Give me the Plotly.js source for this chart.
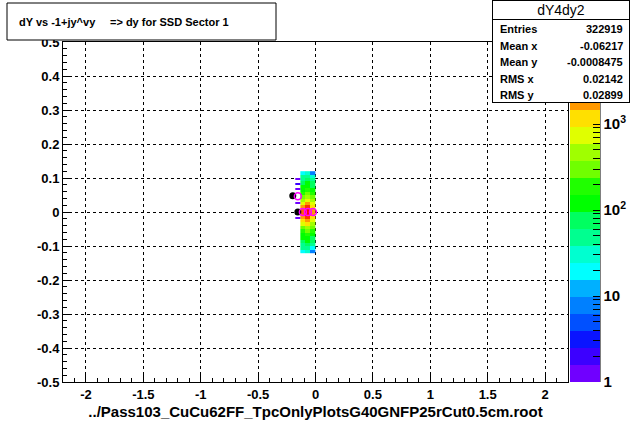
<!DOCTYPE html>
<html>
<head>
<meta charset="utf-8">
<script src="https://cdn.plot.ly/plotly-3.0.1.min.js"></script>
<style>
html,body{margin:0;padding:0;background:#fff;}
#chart{width:632px;height:424px;}
</style>
</head>
<body>
<div id="chart"></div>
<script>
// ---------- data ----------
const colCenters = [-0.110, -0.066, -0.022];
const rowCenters = [0.115, 0.105, 0.095, 0.085, 0.075, 0.065, 0.055, 0.045, 0.035, 0.025, 0.015, 0.005,
                    -0.005, -0.015, -0.025, -0.035, -0.045, -0.055, -0.065, -0.075, -0.085, -0.095, -0.105, -0.115];
const countsA = [22, 40, 60, 75, 100, 130, 200, 330, 550, 900, 1600, 2300,
                 2400, 1700, 1000, 600, 350, 210, 140, 100, 80, 60, 40, 20];
const countsB = [30, 60, 80, 100, 130, 180, 300, 500, 900, 1600, 4000, 7500,
                 8000, 4500, 1700, 1000, 550, 320, 190, 140, 105, 85, 60, 30];
const countsC = [8, 25, 45, 65, 85, 110, 160, 250, 420, 700, 1200, 1800,
                 1900, 1300, 750, 450, 270, 170, 115, 85, 65, 45, 22, 8];

const sparseX = -0.154;
const sparseY = [0.0975, 0.0825, 0.0675, 0.0275, -0.0175];
const sparseCount = [1, 2, 1, 1, 1];

const blackX = [-0.198, -0.154];
const blackY = [0.048, 0.0];
const magentaX = [-0.154, -0.110, -0.066, -0.022];
const magentaY = [0.046, 0.0, 0.0, 0.0];

const xTickVals = [-2, -1.5, -1, -0.5, 0, 0.5, 1, 1.5, 2];
const xTickText = ['-2', '-1.5', '-1', '-0.5', '0', '0.5', '1', '1.5', '2'];
const yTickVals = [-0.5, -0.4, -0.3, -0.2, -0.1, 0, 0.1, 0.2, 0.3, 0.4, 0.5];
const yTickText = ['-0.5', '-0.4', '-0.3', '-0.2', '-0.1', '0', '0.1', '0.2', '0.3', '0.4', '0.5'];

const zMaxCount = 9000;
const paletteColors = ['#7000ff', '#3c00ff', '#0a14ff', '#0050ff', '#0080ff', '#00b0ff', '#00ffff',
  '#00ffd0', '#00ff90', '#00ff60', '#00ff00', '#20ff00', '#70ff00', '#a0ff00', '#e0ff00', '#ffe000',
  '#ff9900', '#ff6000', '#ff3000', '#ff0000'];

const statLabels = ['Entries', 'Mean x', 'Mean y', 'RMS x', 'RMS y'];
const statValues = ['322919', '-0.06217', '-0.0008475', '0.02142', '0.02899'];
const histName = 'dY4dy2';
const titleLeft = 'dY vs -1+jy^vy';
const titleRight = '=> dy for SSD Sector 1';
const xTitle = '../Pass103_CuCu62FF_TpcOnlyPlotsG40GNFP25rCut0.5cm.root';

// ---------- build ----------
const FONT = 'Liberation Sans, Arial, sans-serif';
const L = 63, R = 568, T = 42, B = 382;
const px2x = p => (p - L) / (R - L);
const py2y = p => (B - p) / (B - T);

const zMain = rowCenters.map((y, i) => [countsA[i], countsB[i], countsC[i]].map(c => Math.log10(c)));

const sparseRowsY = [];
for (let k = 0; k < 48; k++) sparseRowsY.push(-0.1175 + 0.005 * k);
const zSparse = sparseRowsY.map(y => {
  const j = sparseY.findIndex(v => Math.abs(v - y) < 1e-6);
  return [j >= 0 ? Math.log10(sparseCount[j]) : null];
});

const colorscale = [];
paletteColors.forEach((c, i) => {
  colorscale.push([i / paletteColors.length, c]);
  colorscale.push([(i + 1) / paletteColors.length, c]);
});

const cbVals = [], cbText = [];
for (let d = 0; d <= 3; d++) {
  for (let m = 1; m <= 9; m++) {
    const v = d + Math.log10(m);
    if (v > Math.log10(zMaxCount)) break;
    cbVals.push(v);
    cbText.push(m === 1 ? (d === 0 ? '1' : d === 1 ? '10' : '10<sup>' + d + '</sup>') : '');
  }
}

const traces = [
  {type: 'heatmap', x: colCenters, y: rowCenters, z: zMain, coloraxis: 'coloraxis', zsmooth: false, hoverinfo: 'skip'},
  {type: 'heatmap', x0: sparseX, dx: 0.044, y: sparseRowsY, z: zSparse, coloraxis: 'coloraxis', zsmooth: false, hoverinfo: 'skip'},
  {type: 'scatter', mode: 'markers', x: blackX, y: blackY, marker: {color: 'black', size: 7, symbol: 'circle'}, hoverinfo: 'skip'},
  {type: 'scatter', mode: 'markers', x: magentaX, y: magentaY,
   marker: {color: '#ff00ff', size: 7, symbol: 'circle-open', line: {color: '#ff00ff', width: 1.5}}, hoverinfo: 'skip'}
];

const tickFont = {family: FONT, size: 13, color: 'black', weight: 'bold'};

const annotations = [
  {xref: 'paper', yref: 'paper', x: px2x(17), y: py2y(22), xanchor: 'left', yanchor: 'middle', showarrow: false,
   text: titleLeft, font: {family: FONT, size: 11, color: 'black', weight: 'bold'}},
  {xref: 'paper', yref: 'paper', x: px2x(108), y: py2y(22), xanchor: 'left', yanchor: 'middle', showarrow: false,
   text: titleRight, font: {family: FONT, size: 11, color: 'black', weight: 'bold'}},
  // stats box header & body
  {xref: 'paper', yref: 'paper', x: px2x(492), y: py2y(0), xanchor: 'left', yanchor: 'top', showarrow: false,
   text: histName, width: 136, height: 18, bgcolor: 'white', bordercolor: 'black', borderwidth: 1, borderpad: 0,
   font: {family: FONT, size: 14, color: 'black'}},
  {xref: 'paper', yref: 'paper', x: px2x(492), y: py2y(19), xanchor: 'left', yanchor: 'top', showarrow: false,
   text: ' ', width: 136, height: 82, bgcolor: 'white', bordercolor: 'black', borderwidth: 1, borderpad: 0,
   font: {family: FONT, size: 11, color: 'black'}}
];
statLabels.forEach((s, i) => {
  const yy = 29 + i * 16.6;
  annotations.push({xref: 'paper', yref: 'paper', x: px2x(498), y: py2y(yy), xanchor: 'left', yanchor: 'middle',
    showarrow: false, text: s, font: {family: FONT, size: 11, color: 'black', weight: 'bold'}});
  annotations.push({xref: 'paper', yref: 'paper', x: px2x(625), y: py2y(yy), xanchor: 'right', yanchor: 'middle',
    showarrow: false, text: statValues[i], font: {family: FONT, size: 11, color: 'black', weight: 'bold'}});
});

const layout = {
  width: 632, height: 424,
  margin: {l: L, r: 632 - R, t: T, b: 424 - B, pad: 0, autoexpand: false},
  paper_bgcolor: 'white', plot_bgcolor: 'white',
  showlegend: false,
  font: {family: FONT, color: 'black'},
  xaxis: {
    range: [-2.2, 2.2], tickmode: 'array', tickvals: xTickVals, ticktext: xTickText,
    ticks: 'inside', ticklen: 8, tickwidth: 1, tickcolor: 'black',
    minor: {tickmode: 'linear', tick0: 0, dtick: 0.1, ticks: 'inside', ticklen: 4, tickcolor: 'black', showgrid: false},
    showgrid: true, gridcolor: 'black', gridwidth: 1, griddash: '3px,3px',
    zeroline: false, showline: true, linecolor: 'black', linewidth: 1, mirror: true,
    tickfont: tickFont,
    title: {text: xTitle, font: {family: FONT, size: 15, color: 'black', weight: 'bold'}, standoff: 5}
  },
  yaxis: {
    range: [-0.5, 0.5], tickmode: 'array', tickvals: yTickVals, ticktext: yTickText,
    ticks: 'inside', ticklen: 8, tickwidth: 1, tickcolor: 'black',
    minor: {tickmode: 'linear', tick0: 0, dtick: 0.02, ticks: 'inside', ticklen: 4, tickcolor: 'black', showgrid: false},
    showgrid: true, gridcolor: 'black', gridwidth: 1, griddash: '3px,3px',
    zeroline: false, showline: true, linecolor: 'black', linewidth: 1, mirror: true,
    tickfont: tickFont
  },
  coloraxis: {
    cmin: 0, cmax: Math.log10(zMaxCount), colorscale: colorscale,
    colorbar: {
      x: px2x(570), xanchor: 'left', y: 0.5, yanchor: 'middle', len: 1, lenmode: 'fraction',
      thickness: 30, thicknessmode: 'pixels', xpad: 0, ypad: 0, outlinewidth: 0,
      tickmode: 'array', tickvals: cbVals, ticktext: cbText,
      ticks: 'inside', ticklen: 7, tickwidth: 1, tickcolor: 'black',
      tickfont: {family: FONT, size: 15, color: 'black', weight: 'bold'}
    }
  },
  shapes: [
    {type: 'rect', xref: 'paper', yref: 'paper', x0: px2x(7), x1: px2x(276), y0: py2y(3), y1: py2y(40),
     line: {color: 'black', width: 1}, fillcolor: 'white', layer: 'above'},
    {type: 'line', xref: 'paper', yref: 'paper', x0: px2x(600), x1: px2x(600), y0: 0, y1: 1,
     line: {color: 'black', width: 1}, layer: 'above'}
  ],
  annotations: annotations
};

Plotly.newPlot('chart', traces, layout, {displayModeBar: false, staticPlot: true});
</script>
</body>
</html>
